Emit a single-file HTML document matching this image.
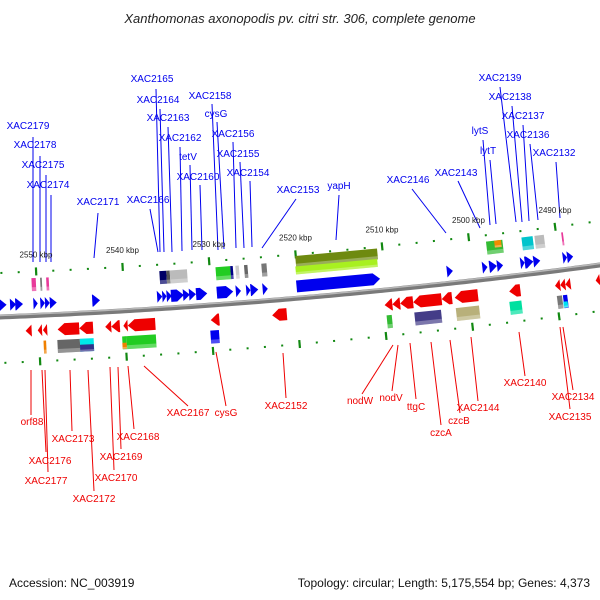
<!DOCTYPE html>
<html><head><meta charset="utf-8"><style>
body{margin:0;background:#fff;width:600px;height:600px;overflow:hidden}
svg{display:block;font-family:"Liberation Sans","DejaVu Sans",sans-serif}
</style></head><body>
<svg id="chart" width="600" height="600" viewBox="0 0 600 600" xmlns="http://www.w3.org/2000/svg">
<text x="300" y="23" text-anchor="middle" font-size="13" font-style="italic" fill="#222">Xanthomonas axonopodis pv. citri str. 306, complete genome</text>
<text x="9" y="587" font-size="12" fill="#111">Accession: NC_003919</text>
<text x="590" y="587" font-size="12" fill="#111" text-anchor="end">Topology: circular; Length: 5,175,554 bp; Genes: 4,373</text>
<g id="lines"></g><g id="marks"></g><g id="labels"></g>
</svg>
<script>
// ---- data (kbp) ----
const fwdStart=[2554.2,2553.0,2552.4,2550.3,2549.5,2548.96,2548.4,2543.5,2536.0,2535.4,2534.9,2534.4,2533.0,2532.3,2531.5,2529.1,2526.9,2525.7,2525.2,2523.8,2519.9,2502.5,2498.4,2497.6,2496.7,2494.0,2493.5,2492.5,2489.1,2488.6];
const fwdEnd=[2553.4,2552.3,2551.5,2549.8,2548.96,2548.4,2547.6,2542.6,2535.4,2534.9,2534.3,2532.9,2532.2,2531.5,2530.2,2527.2,2526.3,2525.2,2524.3,2523.2,2510.2,2501.8,2497.8,2496.7,2496.0,2493.5,2492.5,2491.7,2488.6,2487.9];
const revStart=[2551.2,2549.8,2549.2,2547.5,2545.0,2542.0,2541.3,2539.9,2539.4,2529.8,2522.7,2509.7,2508.8,2507.9,2506.4,2503.1,2501.6,2495.3,2490.0,2489.4,2488.8,2485.3];
const revEnd=[2550.5,2549.3,2548.7,2545.0,2543.4,2541.3,2540.3,2539.4,2536.2,2528.8,2521.0,2508.8,2507.9,2506.4,2503.1,2501.9,2498.9,2494.0,2489.4,2488.8,2488.2,2484.8];
const upBoxStart=[2550.5,2549.5,2548.8,2535.7,2534.9,2534.5,2529.2,2527.5,2526.9,2525.9,2523.9,2497.9,2493.8,2492.3,2489.2];
const upBoxEnd=[2550.0,2549.3,2548.5,2534.9,2534.5,2532.5,2527.5,2527.2,2526.5,2525.5,2523.3,2496.0,2492.5,2491.2,2489.0];
const upBoxColor=['#e8399a','#777777','#e8399a','#000066','#555555','#bbbbbb','#22cc22','#000088','#cccccc','#666666','#777777','#33bb33','#00c4cc','#bbbbbb','#e8399a'];
const loBoxStart=[2549.1,2547.5,2544.9,2540.0,2539.5,2529.8,2509.4,2506.2,2501.4,2495.2,2489.7,2489.0];
const loBoxEnd=[2548.8,2544.9,2543.3,2539.5,2536.1,2528.8,2508.8,2503.1,2498.7,2493.8,2489.1,2488.5];
const loBoxColor=['#f08000','#666666','#00e8e8','#22cc22','#22cc22','#0000ee','#33bb33','#443d88','#b8b07a','#00e0a0','#777777','#0000ee'];
const tickLabels=[2550,2540,2530,2520,2510,2500,2490];
const upLabels=[['XAC2179',28,129,33,137,33,262],['XAC2178',35,148,40,156,40,262],['XAC2175',43,168,46,175,46,262],['XAC2174',48,188,51,195,51,262],['XAC2171',98,205,98,213,94,258],['XAC2165',152,82,156,89,160,252],['XAC2164',158,103,160,109,164,252],['XAC2163',168,121,168,127,172,252],['XAC2162',180,141,180,147,182,251],['XAC2166',148,203,150,209,158,252],['tetV',188,160,190,165,192,250],['XAC2158',210,99,212,104,218,250],['cysG',216,117,217,122,224,249],['XAC2160',198,180,200,185,202,250],['XAC2156',233,137,233,142,236,248],['XAC2155',238,157,240,162,244,248],['XAC2154',248,176,250,181,252,247],['XAC2153',298,193,296,199,262,248],['yapH',339,189,339,195,336,240],['XAC2146',408,183,412,189,446,233],['XAC2143',456,176,458,181,480,228],['XAC2139',500,81,500,87,516,222],['XAC2138',510,100,512,106,522,222],['XAC2137',523,119,523,125,529,221],['XAC2136',528,138,530,144,538,220],['lytS',480,134,483,140,490,225],['lytT',488,154,490,160,496,224],['XAC2132',554,156,556,162,560,218]];
const loLabels=[['orf88',32,425,31,370,31,415],['XAC2176',50,464,42,370,46,452],['XAC2177',46,484,45,370,48,472],['XAC2173',73,442,70,370,72,431],['XAC2172',94,502,88,370,94,491],['XAC2170',116,481,110,367,114,470],['XAC2169',121,460,118,367,121,449],['XAC2168',138,440,128,366,134,429],['XAC2167',188,416,144,366,188,406],['cysG',226,416,216,352,226,406],['XAC2152',286,409,283,353,286,398],['nodW',360,404,393,345,362,394],['nodV',391,401,398,345,392,391],['ttgC',416,410,410,343,416,399],['czcA',441,436,431,342,441,425],['czcB',459,424,450,340,460,413],['XAC2144',478,411,471,337,478,401],['XAC2140',525,386,519,332,525,376],['XAC2134',573,400,563,327,573,390],['XAC2135',570,420,560,327,570,409]];
// ---- axis ----
const NS='http://www.w3.org/2000/svg';
function xk(k){return 36+(2550-k)*8.65;}
function base(x){const t=x/600;return 317*(1-t)*(1-t)+610*t*(1-t)+265*t*t;}
function ang(x){const t=x/600;return Math.atan((-24*(1-t)-80*t)/600)*180/Math.PI;}
const marks=document.getElementById('marks'),linesG=document.getElementById('lines'),labelsG=document.getElementById('labels');
function mk(tag,attrs,parent){const e=document.createElementNS(NS,tag);for(const a in attrs)e.setAttribute(a,attrs[a]);parent.appendChild(e);return e;}
function grp(cx,off){return 'translate('+cx.toFixed(2)+','+(base(cx)+off).toFixed(2)+') rotate('+ang(cx).toFixed(2)+')';}
// backbone
let d='';for(let x=-5;x<=605;x+=5){d+=(x<0?'M':'L')+x+','+base(x).toFixed(2);}
const bb=mk('path',{d:d,stroke:'#7a7a7a','stroke-width':5,fill:'none'},marks);


const bb2=mk('path',{d:d,stroke:'#b8b8b8','stroke-width':1.5,fill:'none',transform:'translate(0,-1.5)'},marks);


// ticks
for(let k=2556;k>=2484;k-=2){
  const major=(k%10===0);
  [[-44,0],[46,4]].forEach(function(p){
    const cx=xk(k)+p[1];
    const r=mk('rect',{x:-1,y:major?-4:-1,width:major?2.2:2,height:major?8:2,fill:'#118811',transform:grp(cx,p[0])},marks);
    
    
  });
}
tickLabels.forEach(function(k){
  const cx=xk(k);
  const t=mk('text',{x:cx,y:base(cx)-58,'font-size':8,'text-anchor':'middle',fill:'#222'},labelsG);
  t.textContent=k+' kbp';
  
  
});
function shade(g,w,h){mk('rect',{x:-w/2,y:h/2-h*0.3,width:w,height:h*0.3,fill:'#fff','fill-opacity':0.3},g);}
function arrow(s,e,off,color,dir,name){
  const x1=xk(s),x2=xk(e),cx=(x1+x2)/2,w=x2-x1,h=12,head=Math.min(7,w);
  const g=mk('g',{transform:grp(cx,off)},marks);
  
  
  let pts;
  if(dir>0){pts=[[-w/2,-h/2],[w/2-head,-h/2],[w/2,0],[w/2-head,h/2],[-w/2,h/2]];}
  else{pts=[[w/2,-h/2],[-w/2+head,-h/2],[-w/2,0],[-w/2+head,h/2],[w/2,h/2]];}
  mk('polygon',{points:pts.map(p=>p[0].toFixed(2)+','+p[1]).join(' '),fill:color},g);
  const p2=pts.map(p=>p[0].toFixed(2)+','+(p[1]>=0?p[1]:Math.max(p[1],h/2-3.5)));
  return g;
}
function box(s,e,off,color,h,name){
  const x1=xk(s),x2=xk(e),cx=(x1+x2)/2,w=Math.max(x2-x1,1.5);
  const g=mk('g',{transform:grp(cx,off)},marks);
  
  
  mk('rect',{x:-w/2,y:-h/2,width:w,height:h,fill:color},g);
  shade(g,w,h);
  return g;
}
for(let i=0;i<fwdStart.length;i++){const g=arrow(fwdStart[i],fwdEnd[i],-12,'#0000ee',1,'forward-gene');}
for(let i=0;i<revStart.length;i++){const g=arrow(revStart[i],revEnd[i],15,'#ee0000',-1,'reverse-gene');}
for(let i=0;i<upBoxStart.length;i++){box(upBoxStart[i],upBoxEnd[i],-31,upBoxColor[i],13,'upper-feature-box');}
for(let i=0;i<loBoxStart.length;i++){box(loBoxStart[i],loBoxEnd[i],32,loBoxColor[i],13,'lower-feature-box');}
// overlays
box(2497.0,2496.2,-34,'#f08c00',7,'orange-feature');
box(2544.9,2543.3,35,'#333388',7,'navy-feature');
box(2540.0,2539.5,35,'#f08000',6,'orange-feature');
box(2489.0,2488.5,35,'#00e0f0',6,'cyan-feature');
box(2520.0,2510.5,-37,'#6e8a10',11,'olive-feature');
box(2520.0,2510.5,-28,'#a8f020',8,'lime-feature');
// labels
function lab(L,color,name){
  L.forEach(function(a){
    const ln=mk('line',{x1:a[3],y1:a[4],x2:a[5],y2:a[6],stroke:color,'stroke-width':1},linesG);
    
    
    const t=mk('text',{x:a[1],y:a[2],'font-size':10,'text-anchor':'middle',fill:color},labelsG);
    t.textContent=a[0];
    
    
  });
}
lab(upLabels,'#0000ee','forward-gene-label');
lab(loLabels,'#ee0000','reverse-gene-label');
</script>
</body></html>
